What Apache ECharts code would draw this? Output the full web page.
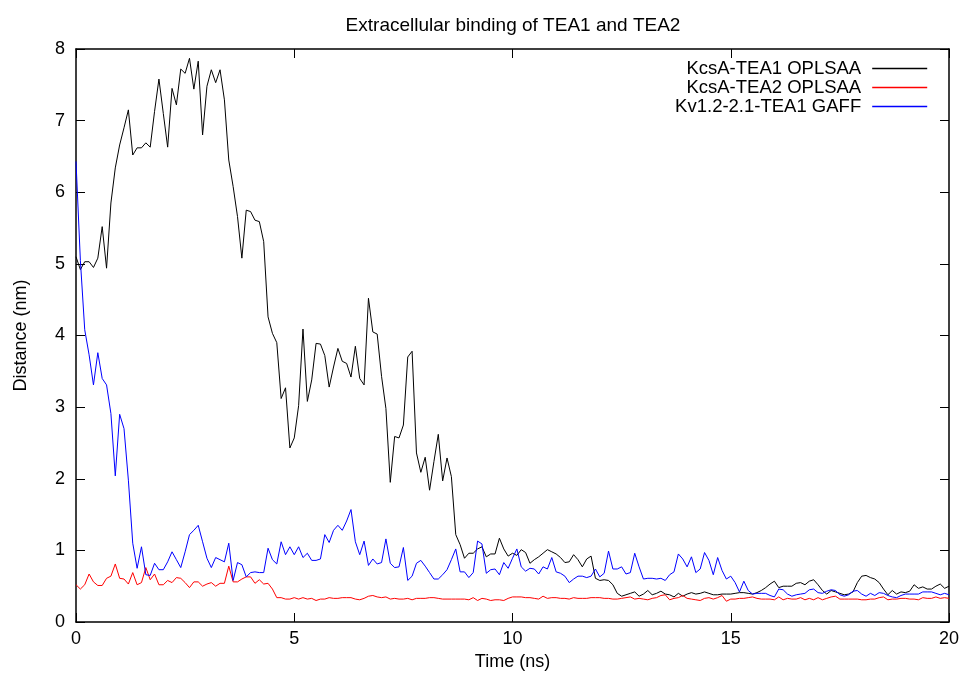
<!DOCTYPE html>
<html>
<head>
<meta charset="utf-8">
<title>Extracellular binding of TEA1 and TEA2</title>
<script src="https://cdn.jsdelivr.net/npm/echarts@6/dist/echarts.min.js"></script>
<style>
  html, body { margin: 0; padding: 0; background: #fff; }
  #chart { width: 967px; height: 680px; }
</style>
</head>
<body>
<div id="chart"></div>
<script>
// Simulation frames are written every 0.1 ns, from 0 to 20 ns.
const timeStep = 0.1;

const seriesNames = ['KcsA-TEA1 OPLSAA', 'KcsA-TEA2 OPLSAA', 'Kv1.2-2.1-TEA1 GAFF'];
const seriesColors = ['#000000', '#ff0000', '#0000ff'];

// Ligand–channel distance (nm), one value per frame.
const kcsaTea1 = [
  5.10, 4.92, 5.03, 5.03, 4.95, 5.08, 5.52, 4.94, 5.85, 6.34,
  6.66, 6.90, 7.15, 6.52, 6.62, 6.62, 6.69, 6.63, 7.13, 7.58,
  7.10, 6.63, 7.45, 7.22, 7.72, 7.66, 7.87, 7.44, 7.83, 6.80,
  7.48, 7.71, 7.53, 7.71, 7.29, 6.45, 6.08, 5.66, 5.08, 5.75,
  5.73, 5.61, 5.59, 5.31, 4.26, 4.03, 3.90, 3.12, 3.27, 2.43,
  2.57, 3.02, 4.09, 3.08, 3.38, 3.89, 3.88, 3.72, 3.28, 3.56,
  3.82, 3.64, 3.61, 3.42, 3.85, 3.40, 3.31, 4.52, 4.05, 4.02,
  3.43, 2.98, 1.95, 2.59, 2.57, 2.75, 3.70, 3.78, 2.36, 2.09,
  2.30, 1.84, 2.24, 2.62, 1.97, 2.29, 2.03, 1.22, 1.08, 0.89,
  0.96, 0.96, 1.02, 1.05, 0.91, 0.95, 0.95, 1.17, 1.02, 0.92,
  0.96, 0.93, 1.01, 0.97, 0.82, 0.87, 0.91, 0.96, 1.01, 0.98,
  0.95, 0.90, 0.83, 0.84, 0.94, 0.87, 0.77, 0.88, 0.92, 0.61,
  0.58, 0.59, 0.58, 0.52, 0.40, 0.36, 0.38, 0.40, 0.42, 0.36,
  0.39, 0.44, 0.38, 0.40, 0.43, 0.39, 0.38, 0.35, 0.40, 0.36,
  0.39, 0.41, 0.39, 0.40, 0.42, 0.40, 0.38, 0.38, 0.39, 0.39,
  0.39, 0.40, 0.41, 0.41, 0.40, 0.39, 0.41, 0.44, 0.48, 0.53,
  0.57, 0.48, 0.50, 0.50, 0.50, 0.54, 0.55, 0.52, 0.57, 0.59,
  0.52, 0.44, 0.39, 0.44, 0.42, 0.40, 0.38, 0.39, 0.42, 0.55,
  0.64, 0.65, 0.62, 0.60, 0.55, 0.46, 0.38, 0.44, 0.39, 0.42,
  0.41, 0.43, 0.52, 0.47, 0.49, 0.46, 0.46, 0.50, 0.53, 0.47,
  0.50
];

const kcsaTea2 = [
  0.52, 0.46, 0.52, 0.67, 0.56, 0.51, 0.51, 0.61, 0.64, 0.81,
  0.61, 0.60, 0.53, 0.69, 0.52, 0.55, 0.76, 0.59, 0.67, 0.52,
  0.52, 0.58, 0.55, 0.62, 0.61, 0.55, 0.48, 0.56, 0.56, 0.50,
  0.53, 0.55, 0.50, 0.54, 0.54, 0.78, 0.56, 0.56, 0.60, 0.63,
  0.63, 0.54, 0.59, 0.53, 0.54, 0.46, 0.34, 0.34, 0.32, 0.32,
  0.34, 0.32, 0.34, 0.32, 0.33, 0.30, 0.32, 0.32, 0.34, 0.33,
  0.33, 0.34, 0.34, 0.34, 0.32, 0.31, 0.33, 0.36, 0.37, 0.35,
  0.34, 0.35, 0.32, 0.33, 0.32, 0.32, 0.33, 0.31, 0.33, 0.33,
  0.33, 0.34, 0.34, 0.33, 0.32, 0.32, 0.32, 0.32, 0.32, 0.32,
  0.31, 0.34, 0.30, 0.33, 0.32, 0.30, 0.31, 0.31, 0.30, 0.33,
  0.35, 0.35, 0.35, 0.34, 0.34, 0.33, 0.32, 0.36, 0.33, 0.34,
  0.34, 0.33, 0.33, 0.32, 0.34, 0.33, 0.33, 0.33, 0.34, 0.34,
  0.34, 0.33, 0.33, 0.32, 0.32, 0.33, 0.34, 0.35, 0.32, 0.33,
  0.32, 0.31, 0.33, 0.34, 0.37, 0.38, 0.31, 0.33, 0.34, 0.37,
  0.33, 0.32, 0.31, 0.30, 0.33, 0.34, 0.32, 0.34, 0.37, 0.29,
  0.32, 0.32, 0.33, 0.33, 0.34, 0.35, 0.33, 0.32, 0.32, 0.32,
  0.31, 0.35, 0.31, 0.33, 0.32, 0.32, 0.34, 0.31, 0.33, 0.31,
  0.34, 0.31, 0.33, 0.35, 0.36, 0.32, 0.32, 0.32, 0.32, 0.32,
  0.31, 0.31, 0.32, 0.32, 0.34, 0.35, 0.31, 0.32, 0.32, 0.33,
  0.33, 0.32, 0.32, 0.31, 0.34, 0.33, 0.33, 0.35, 0.33, 0.34,
  0.33
];

const kv12Tea1 = [
  6.43, 5.05, 4.08, 3.73, 3.31, 3.76, 3.40, 3.31, 2.91, 2.04,
  2.90, 2.70, 1.98, 1.10, 0.75, 1.05, 0.66, 0.65, 0.82, 0.73,
  0.73, 0.84, 0.98, 0.87, 0.76, 0.98, 1.22, 1.28, 1.35, 1.12,
  0.89, 0.76, 0.90, 0.87, 0.84, 1.10, 0.58, 0.83, 0.80, 0.63,
  0.69, 0.70, 0.69, 0.69, 1.03, 0.87, 0.81, 1.12, 0.94, 1.05,
  0.94, 1.05, 0.90, 0.96, 0.86, 0.86, 0.88, 1.22, 1.11, 1.28,
  1.35, 1.28, 1.41, 1.57, 1.12, 0.94, 1.13, 0.79, 0.88, 0.81,
  0.83, 1.16, 0.82, 0.76, 0.77, 1.04, 0.58, 0.64, 0.82, 0.86,
  0.78, 0.69, 0.60, 0.60, 0.66, 0.73, 0.87, 1.02, 0.70, 0.70,
  0.62, 0.69, 1.13, 1.09, 0.68, 0.73, 0.74, 0.66, 0.83, 0.75,
  0.89, 1.02, 0.77, 0.71, 0.75, 0.74, 0.67, 0.77, 0.74, 0.90,
  0.70, 0.68, 0.64, 0.55, 0.60, 0.64, 0.64, 0.62, 0.64, 0.74,
  0.63, 0.68, 0.99, 0.74, 0.74, 0.77, 0.67, 0.69, 0.96, 0.77,
  0.60, 0.61, 0.61, 0.60, 0.61, 0.58, 0.66, 0.70, 0.95, 0.88,
  0.77, 0.91, 0.69, 0.74, 0.97, 0.86, 0.66, 0.90, 0.72, 0.60,
  0.64, 0.55, 0.42, 0.57, 0.44, 0.39, 0.40, 0.40, 0.40, 0.37,
  0.35, 0.46, 0.45, 0.39, 0.36, 0.38, 0.39, 0.40, 0.45, 0.46,
  0.41, 0.40, 0.43, 0.45, 0.44, 0.38, 0.36, 0.38, 0.43, 0.44,
  0.39, 0.36, 0.40, 0.37, 0.41, 0.40, 0.37, 0.35, 0.34, 0.37,
  0.39, 0.39, 0.39, 0.39, 0.42, 0.42, 0.42, 0.40, 0.38, 0.40,
  0.38
];

const xTicks = [0, 5, 10, 15, 20];
const yTicks = [0, 1, 2, 3, 4, 5, 6, 7, 8];

const FONT = '"Liberation Sans", Arial, Helvetica, sans-serif';

function pairs(values) {
  return values.map((v, i) => [Number((i * timeStep).toFixed(1)), v]);
}

const chart = echarts.init(document.getElementById('chart'), null, { renderer: 'canvas' });

const frameAxisLine = { show: true, onZero: false, lineStyle: { color: '#000', width: 1.5 } };
const frameTick = { show: true, inside: true, length: 9, lineStyle: { color: '#000', width: 1 } };

const xRange = { min: xTicks[0], max: xTicks[xTicks.length - 1], interval: xTicks[1] - xTicks[0] };
const yRange = { min: yTicks[0], max: yTicks[yTicks.length - 1], interval: yTicks[1] - yTicks[0] };

const option = {
  animation: false,
  backgroundColor: '#ffffff',
  color: seriesColors,
  textStyle: { fontFamily: FONT, color: '#000' },
  title: {
    text: 'Extracellular binding of TEA1 and TEA2',
    left: 508,
    top: 11,
    textAlign: 'center',
    textStyle: { fontFamily: FONT, fontSize: 19, fontWeight: 'normal', color: '#000' }
  },
  legend: {
    // Each entry carries its own line colour so the key samples match the curves.
    data: seriesNames.map((name, k) => ({
      name: name,
      itemStyle: { color: seriesColors[k], opacity: 0 },
      lineStyle: { color: seriesColors[k], width: 1.6, opacity: 1 }
    })),
    orient: 'vertical',
    right: 34,
    top: 54,
    align: 'right',
    itemWidth: 55,
    itemHeight: 12,
    itemGap: 0,
    textStyle: { fontFamily: FONT, fontSize: 18.5, color: '#000', lineHeight: 19, padding: [0, 6, 0, 0] }
  },
  grid: { left: 76, right: 18, top: 49, bottom: 58, containLabel: false },
  xAxis: [
    Object.assign({
      type: 'value',
      position: 'bottom',
      name: 'Time (ns)',
      nameLocation: 'middle',
      nameGap: 28,
      nameTextStyle: { fontFamily: FONT, fontSize: 18, color: '#000' },
      axisLine: frameAxisLine,
      axisTick: frameTick,
      axisLabel: { fontFamily: FONT, fontSize: 18, color: '#000', margin: 8 },
      splitLine: { show: false }
    }, xRange),
    Object.assign({
      type: 'value',
      position: 'top',
      axisLine: frameAxisLine,
      axisTick: frameTick,
      axisLabel: { show: false },
      splitLine: { show: false }
    }, xRange)
  ],
  yAxis: [
    Object.assign({
      type: 'value',
      position: 'left',
      name: 'Distance (nm)',
      nameLocation: 'middle',
      nameGap: 46,
      nameRotate: 90,
      nameTextStyle: { fontFamily: FONT, fontSize: 18, color: '#000' },
      axisLine: frameAxisLine,
      axisTick: frameTick,
      axisLabel: { fontFamily: FONT, fontSize: 18, color: '#000', margin: 11 },
      splitLine: { show: false }
    }, yRange),
    Object.assign({
      type: 'value',
      position: 'right',
      axisLine: frameAxisLine,
      axisTick: frameTick,
      axisLabel: { show: false },
      splitLine: { show: false }
    }, yRange)
  ],
  series: [kcsaTea1, kcsaTea2, kv12Tea1].map((values, k) => ({
    name: seriesNames[k],
    type: 'line',
    xAxisIndex: 0,
    yAxisIndex: 0,
    data: pairs(values),
    showSymbol: false,
    symbol: 'none',
    itemStyle: { color: seriesColors[k] },
    lineStyle: { color: seriesColors[k], width: 1 },
    emphasis: { disabled: true }
  }))
};

chart.setOption(option);
</script>
</body>
</html>
